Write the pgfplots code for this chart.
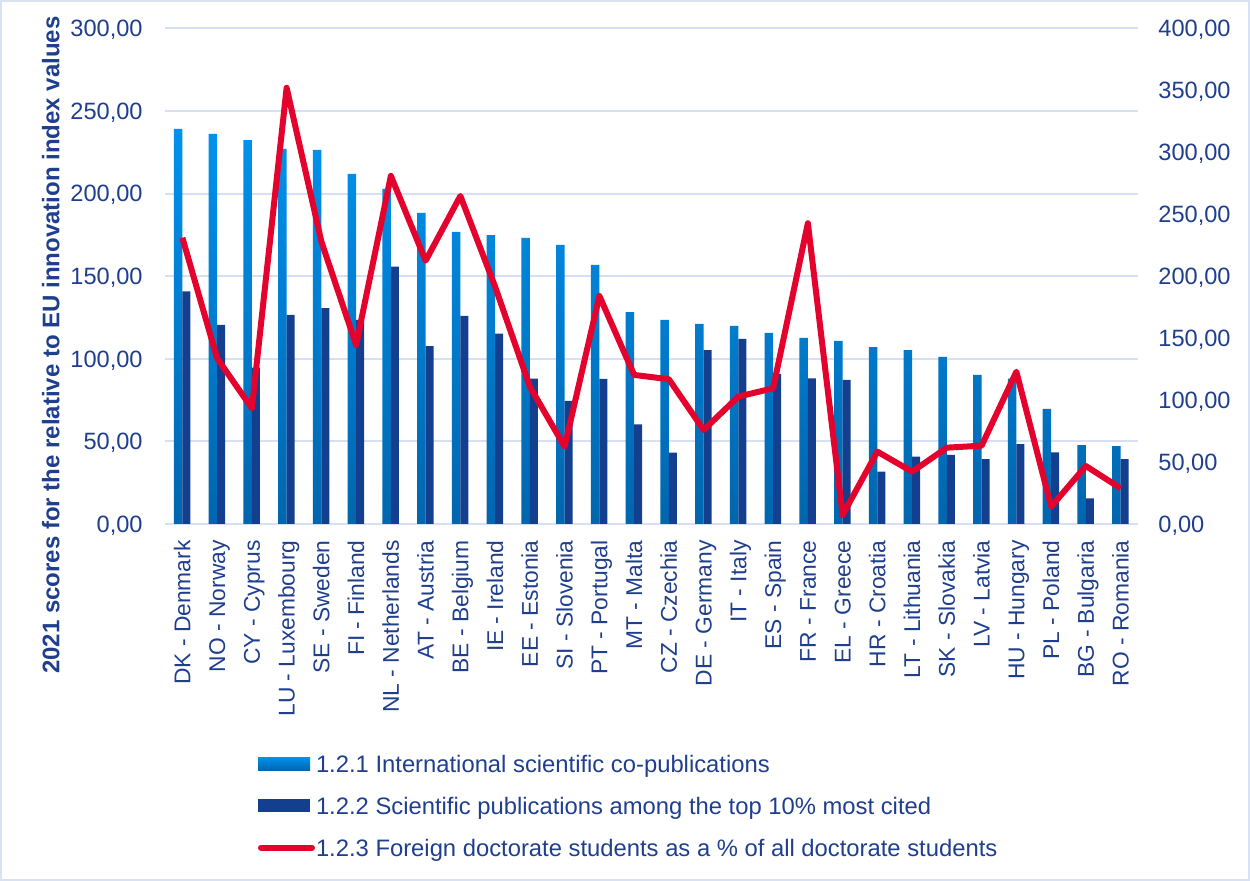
\documentclass[border=0pt]{standalone}
\usepackage{pgfplots}
\pgfplotsset{compat=1.18}
\usepackage{pgfplotstable}
\usepackage{fontspec}
\setmainfont{Liberation Sans}

\definecolor{barlighttop}{HTML}{0092EE}
\definecolor{barlightbot}{HTML}{0066AE}
\definecolor{bardark}{HTML}{143F8F}
\definecolor{linered}{HTML}{E4032C}
\definecolor{txtblue}{HTML}{1F3F8E}
\definecolor{gridblue}{HTML}{D6DFF3}
\definecolor{framecol}{HTML}{D9E2F3}

\newcommand\xticksize{\fontsize{11.4}{13.5}\selectfont}
\newcommand\yticksize{\fontsize{11.8}{14}\selectfont}

% 1.2.1 / 1.2.2 on the left scale, 1.2.3 on the right scale
\pgfplotstableread{
idx country intl top10 foreign
0  DK 239.1 140.8 231.0
1  NO 236.1 120.5 133.7
2  CY 232.4  94.6  93.4
3  LU 227.0 126.5 352.0
4  SE 226.4 130.6 227.9
5  FI 211.9 123.5 144.5
6  NL 202.8 155.8 280.9
7  AT 188.3 107.7 212.5
8  BE 176.8 125.9 264.7
9  IE 174.9 115.2 191.5
10 EE 173.1  88.0 110.8
11 SI 168.9  74.5  62.4
12 PT 156.8  87.8 184.0
13 MT 128.3  60.3 120.3
14 CZ 123.5  43.2 116.8
15 DE 121.1 105.3  75.9
16 IT 119.9 112.0 102.8
17 ES 115.6  90.8 109.5
18 FR 112.6  88.2 242.7
19 EL 110.8  87.2   7.3
20 HR 107.1  31.7  58.4
21 LT 105.3  40.8  42.2
22 SK 101.1  41.8  61.6
23 LV  90.2  39.2  63.2
24 HU  88.0  48.4 122.9
25 PL  69.6  43.4  14.0
26 BG  47.8  15.5  46.8
27 RO  47.2  39.3  28.8
}\datatable

\pgfplotsset{
  commonaxis/.style={
    at={(82.5pt,-262pt)}, anchor=south west,
    scale only axis, width=486.5pt, height=247.85pt,
    xmin=-0.5, xmax=27.5, ymin=0,
    axis line style={draw=none},
    major tick length=0pt,
    tick label style={text=txtblue},
    xticklabel style={font=\xticksize},
    yticklabel style={font=\yticksize, inner sep=0pt, text height=8.4pt, text depth=0pt,
      /pgf/number format/fixed, /pgf/number format/fixed zerofill,
      /pgf/number format/precision=2, /pgf/number format/use comma,
      /pgf/number format/1000 sep={}, /pgf/number format/assume math mode=true},
  },
  barimage/.style={legend image code/.code={%
    \path[##1] (0pt,-3.25pt) rectangle (26pt,3.25pt);}},
  lineimage/.style={legend image code/.code={%
    \draw[##1] (1.5pt,0pt) -- (27pt,0pt);}},
}

\begin{document}
\begin{tikzpicture}[x=1pt,y=1pt]
\path[use as bounding box] (0,0) rectangle (625,-440.5);
\draw[framecol, line width=1pt] (0.5,-0.5) rectangle (624.5,-440);

\begin{axis}[
  commonaxis,
  ymax=300, ytick={0,50,...,300},
  ymajorgrids, grid style={gridblue, line width=1pt},
  yticklabel shift=11pt,
  xtick={0,...,27},
  xticklabels={DK - Denmark, NO - Norway, CY - Cyprus, LU - Luxembourg,
    SE - Sweden, FI - Finland, NL - Netherlands, AT - Austria, BE - Belgium,
    IE - Ireland, EE - Estonia, SI - Slovenia, PT - Portugal, MT - Malta,
    CZ - Czechia, DE - Germany, IT - Italy, ES - Spain, FR - France,
    EL - Greece, HR - Croatia, LT - Lithuania, SK - Slovakia, LV - Latvia,
    HU - Hungary, PL - Poland, BG - Bulgaria, RO - Romania},
  xticklabel style={rotate=90, anchor=east, inner sep=0pt,
    text height=8.1pt, text depth=0pt},
  xticklabel shift=8pt,
  ylabel={2021 scores for the relative to EU innovation index values},
  ylabel style={at={(axis description cs:-0.1175,0.361)}, anchor=center,
    inner sep=0pt, font=\bfseries\fontsize{12}{14}\selectfont, text=txtblue},
  legend style={at={(axis description cs:0.0956,-0.4662)}, anchor=north west,
    draw=none, fill=none, inner sep=0pt, outer sep=0pt, row sep=12.5pt,
    font=\fontsize{11.9}{14}\selectfont, text=txtblue,
    nodes={inner sep=0pt, text height=8.5pt, text depth=0pt},
    /tikz/every odd column/.append style={column sep=0.5pt}},
  legend cell align=left,
]
\addplot[ybar, bar width=4.2pt, bar shift=-2.1pt, draw=none,
  top color=barlighttop, bottom color=barlightbot, barimage]
  table[x=idx, y=intl] {\datatable};
\addlegendentry{1.2.1 International scientific co-publications}
\addplot[ybar, bar width=4pt, bar shift=2.0pt, draw=none, fill=bardark,
  barimage]
  table[x=idx, y=top10] {\datatable};
\addlegendentry{1.2.2 Scientific publications among the top 10\% most cited}
\addlegendimage{linered, line width=3pt, line cap=round, lineimage}
\addlegendentry{1.2.3 Foreign doctorate students as a \% of all doctorate students}
\end{axis}

\begin{axis}[
  commonaxis,
  ymax=400, ytick={0,50,...,400},
  axis y line*=right, hide x axis,
  yticklabel style={anchor=west},
  yticklabel shift=10pt,
]
\addplot[linered, line width=3pt, line join=round, mark=none]
  table[x=idx, y=foreign] {\datatable};
\end{axis}
\end{tikzpicture}
\end{document}
